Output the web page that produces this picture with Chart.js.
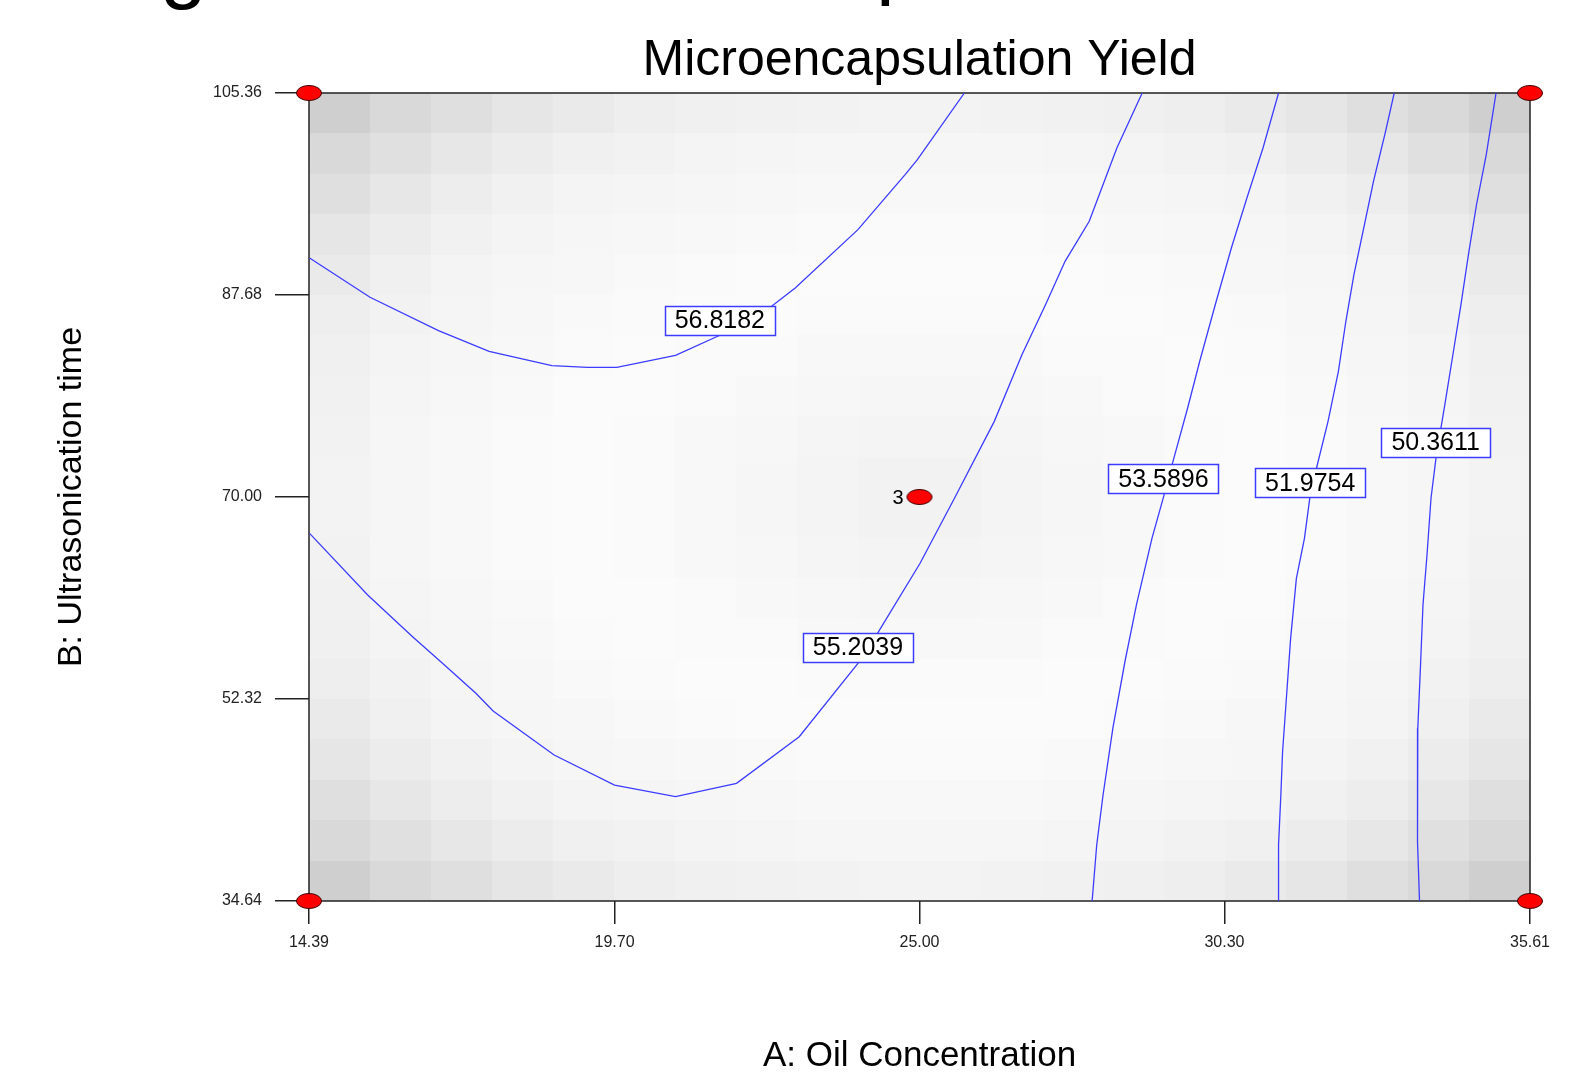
<!DOCTYPE html>
<html>
<head>
<meta charset="utf-8">
<title>Microencapsulation Yield</title>
<script src="https://cdn.jsdelivr.net/npm/chart.js@4.4.0/dist/chart.umd.min.js"></script>
<style>
  html, body { margin: 0; padding: 0; background: #fff; }
  #wrap { width: 1589px; height: 1076px; position: relative; overflow: hidden; }
</style>
</head>
<body>
<div id="wrap"><canvas id="grafico" width="1589" height="1076"></canvas></div>
<script>
// eixos
const xTicks = [14.39, 19.70, 25.00, 30.30, 35.61];
const yTicks = [34.64, 52.32, 70.00, 87.68, 105.36];

// curvas de nível
const niveis = ['56.8182', '55.2039', '53.5896', '51.9754', '50.3611'];

const c1X = [14.40, 15.45, 16.64, 17.52, 18.61, 19.23, 19.74, 20.76, 21.55, 22.43, 22.84, 23.93, 24.75, 24.96, 25.78];
const c1Y = [90.92, 87.48, 84.56, 82.75, 81.49, 81.35, 81.35, 82.40, 84.20, 86.69, 88.29, 93.40, 98.21, 99.50, 105.36];

const c2X = [14.40, 15.41, 16.19, 16.71, 17.29, 17.59, 18.65, 19.70, 20.76, 21.82, 22.91, 23.93, 24.27, 25.01, 25.61, 26.30, 26.78, 27.19, 27.53, 27.95, 28.43, 28.87];
const c2Y = [66.82, 61.42, 57.77, 55.44, 52.82, 51.27, 47.42, 44.79, 43.77, 44.94, 49.02, 55.44, 58.07, 64.20, 69.91, 76.62, 82.45, 86.83, 90.63, 94.13, 100.55, 105.36];

const c3X = [31.24, 30.97, 30.69, 30.42, 30.14, 29.87, 29.66, 29.39, 29.25, 29.04, 28.77, 28.57, 28.36, 28.19, 28.08, 28.00];
const c3Y = [105.36, 100.55, 96.17, 91.79, 86.83, 81.88, 77.79, 72.83, 70.17, 66.38, 60.55, 55.58, 49.75, 43.92, 39.54, 34.64];

const c4X = [33.25, 33.10, 32.89, 32.72, 32.55, 32.41, 32.28, 32.10, 31.90, 31.79, 31.69, 31.55, 31.45, 31.38, 31.31, 31.28, 31.24, 31.24];
const c4Y = [105.36, 102.01, 97.63, 93.54, 89.46, 85.38, 81.00, 76.62, 72.54, 70.17, 66.38, 62.88, 57.63, 52.67, 47.71, 43.92, 39.54, 34.64];

const c5X = [35.02, 34.85, 34.68, 34.54, 34.41, 34.27, 34.13, 33.98, 33.89, 33.82, 33.75, 33.71, 33.66, 33.65, 33.66, 33.69];
const c5Y = [105.36, 99.96, 95.58, 91.21, 86.83, 82.45, 78.08, 73.56, 69.91, 64.92, 60.55, 55.58, 49.75, 43.92, 39.83, 34.64];

// onde fica a caixinha de cada rótulo
const rotuloX = [21.53, 23.93, 29.24, 31.79, 33.97];
const rotuloY = [85.45, 56.83, 71.59, 71.25, 74.77];

// pontos do planejamento
const pontosX = [14.39, 14.39, 35.61, 35.61, 25.00];
const pontosY = [34.64, 105.36, 34.64, 105.36, 70.00];
const repeticoes = ['', '', '', '', '3'];

// tons de cinza do fundo (0-255), linha de cima (105.36) até a de baixo (34.64)
const tons = [
  [207,217,223,230,234,238,240,241,242,243,243,242,241,240,238,234,230,223,217,207],
  [217,224,231,236,240,242,244,245,246,246,246,246,245,244,242,240,236,231,224,217],
  [223,231,237,241,244,245,246,247,248,248,248,248,247,246,245,244,241,237,231,223],
  [230,236,241,244,246,247,248,249,250,250,250,250,249,248,247,246,244,241,236,230],
  [234,240,244,246,247,249,250,251,251,251,251,251,251,250,249,247,246,244,240,234],
  [238,242,245,247,249,250,251,251,250,250,250,250,251,251,250,249,247,245,242,238],
  [240,244,246,248,250,251,250,250,248,248,248,248,250,250,251,250,248,246,244,240],
  [241,245,247,249,251,251,250,248,247,246,246,247,248,250,251,251,249,247,245,241],
  [242,246,248,250,251,250,248,247,245,244,244,245,247,248,250,251,250,248,246,242],
  [243,246,248,250,251,250,248,246,244,242,242,244,246,248,250,251,250,248,246,243],
  [243,246,248,250,251,250,248,246,244,242,242,244,246,248,250,251,250,248,246,243],
  [242,246,248,250,251,250,248,247,245,244,244,245,247,248,250,251,250,248,246,242],
  [241,245,247,249,251,251,250,248,247,246,246,247,248,250,251,251,249,247,245,241],
  [240,244,246,248,250,251,250,250,248,248,248,248,250,250,251,250,248,246,244,240],
  [238,242,245,247,249,250,251,251,250,250,250,250,251,251,250,249,247,245,242,238],
  [234,240,244,246,247,249,250,251,251,251,251,251,251,250,249,247,246,244,240,234],
  [230,236,241,244,246,247,248,249,250,250,250,250,249,248,247,246,244,241,236,230],
  [223,231,237,241,244,245,246,247,248,248,248,248,247,246,245,244,241,237,231,223],
  [217,224,231,236,240,242,244,245,246,246,246,246,245,244,242,240,236,231,224,217],
  [207,217,223,230,234,238,240,241,242,243,243,242,241,240,238,234,230,223,217,207]
];

const fonte = '"Liberation Sans", Arial, sans-serif';
const azul = '#3c3cff';

function juntar(xs, ys) {
  return xs.map((x, i) => ({ x, y: ys[i] }));
}

// elipse vermelha usada como marcador
function criarElipse() {
  const c = document.createElement('canvas');
  c.width = 28;
  c.height = 18;
  const g = c.getContext('2d');
  g.beginPath();
  g.ellipse(14, 9, 12.5, 7.5, 0, 0, Math.PI * 2);
  g.fillStyle = '#ff0000';
  g.fill();
  g.lineWidth = 1;
  g.strokeStyle = '#400000';
  g.stroke();
  return c;
}

const fundoPlugin = {
  id: 'fundo',
  beforeDatasetsDraw(chart) {
    const { ctx, chartArea, scales: { x, y } } = chart;
    const nLin = tons.length, nCol = tons[0].length;
    const dx = (x.max - x.min) / nCol, dy = (y.max - y.min) / nLin;
    ctx.save();
    tons.forEach((linha, r) => {
      linha.forEach((t, c) => {
        const x0 = Math.round(x.getPixelForValue(x.min + c * dx));
        const x1 = Math.round(x.getPixelForValue(x.min + (c + 1) * dx));
        const y0 = Math.round(y.getPixelForValue(y.max - r * dy));
        const y1 = Math.round(y.getPixelForValue(y.max - (r + 1) * dy));
        ctx.fillStyle = `rgb(${t},${t},${t})`;
        ctx.fillRect(x0, y0, x1 - x0, y1 - y0);
      });
    });
    ctx.strokeStyle = '#222';
    ctx.lineWidth = 1.5;
    ctx.strokeRect(chartArea.left, chartArea.top, chartArea.right - chartArea.left, chartArea.bottom - chartArea.top);
    ctx.restore();
  }
};

const rotulosPlugin = {
  id: 'rotulos',
  afterDatasetsDraw(chart) {
    const { ctx, scales: { x, y } } = chart;
    ctx.save();
    ctx.font = '25px ' + fonte;
    ctx.textAlign = 'center';
    ctx.textBaseline = 'middle';
    niveis.forEach((txt, i) => {
      const px = x.getPixelForValue(rotuloX[i]);
      const py = y.getPixelForValue(rotuloY[i]);
      const w = ctx.measureText(txt).width + 20;
      const h = 29;
      ctx.fillStyle = '#fff';
      ctx.fillRect(px - w / 2, py - h / 2, w, h);
      ctx.strokeStyle = azul;
      ctx.lineWidth = 1.5;
      ctx.strokeRect(Math.round(px - w / 2) + 0.5, Math.round(py - h / 2) + 0.5, Math.round(w), h);
      ctx.fillStyle = '#000';
      ctx.fillText(txt, px, py + 1);
    });
    // número de repetições ao lado do ponto central
    ctx.font = '20px ' + fonte;
    ctx.textAlign = 'right';
    repeticoes.forEach((r, i) => {
      if (!r) return;
      ctx.fillText(r, x.getPixelForValue(pontosX[i]) - 16, y.getPixelForValue(pontosY[i]) + 1);
    });
    ctx.restore();
  },
  afterDraw(chart) {
    // pedaços do título da figura cortados no topo
    const { ctx } = chart;
    ctx.save();
    ctx.font = '84px ' + fonte;
    ctx.fillStyle = '#000';
    ctx.textBaseline = 'alphabetic';
    ctx.fillText('g', 160, -7);
    ctx.fillText('p', 876, -11);
    ctx.restore();
  }
};

const contornos = [c1X, c2X, c3X, c4X, c5X].map((xs, i) => ({
  type: 'line',
  label: niveis[i],
  data: juntar(xs, [c1Y, c2Y, c3Y, c4Y, c5Y][i]),
  borderColor: azul,
  borderWidth: 1.3,
  pointRadius: 0,
  fill: false,
  tension: 0
}));

const elipse = criarElipse();

new Chart(document.getElementById('grafico'), {
  type: 'scatter',
  data: {
    datasets: [
      ...contornos,
      {
        type: 'scatter',
        label: 'pontos',
        data: juntar(pontosX, pontosY),
        pointStyle: elipse,
        pointRadius: 10,
        clip: false
      }
    ]
  },
  options: {
    responsive: false,
    animation: false,
    devicePixelRatio: 1,
    layout: { padding: { left: 0, right: 59, top: 0, bottom: 0 } },
    plugins: {
      legend: { display: false },
      tooltip: { enabled: false },
      title: {
        display: true,
        fullSize: false,
        text: 'Microencapsulation Yield',
        color: '#000',
        font: { family: fonte, size: 50, weight: 'normal', lineHeight: 1.2 },
        padding: { top: 31, bottom: 2 }
      }
    },
    scales: {
      x: {
        type: 'linear',
        min: 14.39,
        max: 35.61,
        afterBuildTicks: s => { s.ticks = xTicks.map(v => ({ value: v })); },
        afterFit: s => { s.height = 175; },
        ticks: {
          callback: v => Number(v).toFixed(2),
          font: { family: fonte, size: 16 },
          color: '#222',
          padding: 9,
          maxRotation: 0,
          autoSkip: false
        },
        grid: { drawOnChartArea: false, tickLength: 23, color: '#222', lineWidth: 1.5 },
        border: { display: false },
        title: {
          display: true,
          text: 'A: Oil Concentration',
          color: '#000',
          font: { family: fonte, size: 35, lineHeight: 1.1 },
          padding: { top: 0, bottom: 0 }
        }
      },
      y: {
        type: 'linear',
        min: 34.64,
        max: 105.36,
        afterBuildTicks: s => { s.ticks = yTicks.map(v => ({ value: v })); },
        afterFit: s => { s.width = 309; },
        ticks: {
          callback: v => Number(v).toFixed(2),
          font: { family: fonte, size: 16 },
          color: '#222',
          padding: 13,
          autoSkip: false
        },
        grid: { drawOnChartArea: false, tickLength: 34, color: '#222', lineWidth: 1.5 },
        border: { display: false },
        title: {
          display: true,
          text: 'B: Ultrasonication time',
          color: '#000',
          font: { family: fonte, size: 34, lineHeight: 1.2 },
          padding: { top: 51, bottom: 0 }
        }
      }
    }
  },
  plugins: [fundoPlugin, rotulosPlugin]
});
</script>
</body>
</html>
